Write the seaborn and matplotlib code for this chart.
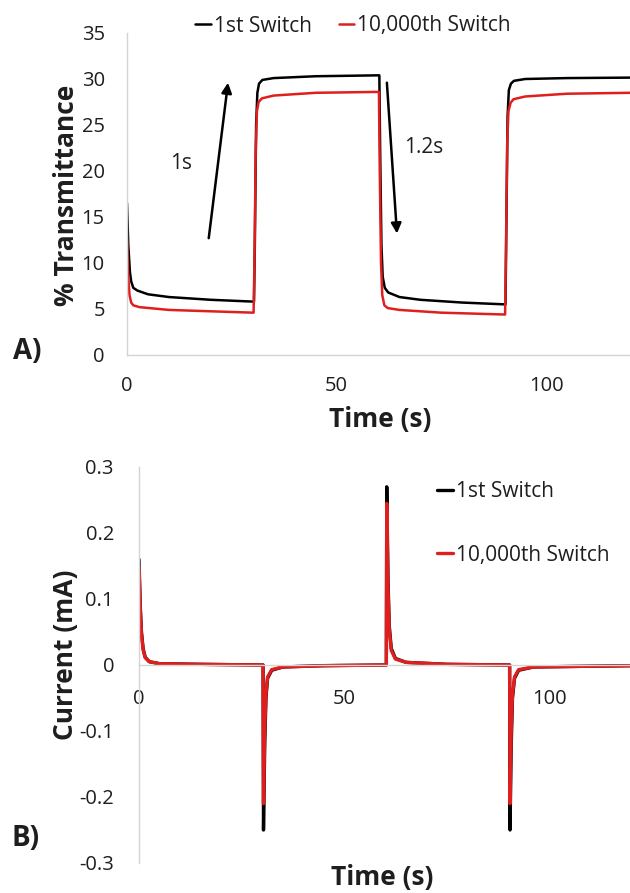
import numpy as np
import pandas as pd
import matplotlib
matplotlib.use("Agg")
import matplotlib.pyplot as plt
import seaborn as sns

# ---------------- data ----------------
t_trans_1 = [0, 0.3, 0.7, 1.0, 1.5, 2.5, 5, 10, 20, 30.3,
             30.5, 30.8, 31.1, 31.5, 32.3, 35, 45, 60.2,
             60.4, 60.7, 61.0, 61.5, 62.3, 65, 70, 80, 90.3,
             90.5, 90.8, 91.1, 91.6, 92.3, 95, 105, 120]
trans_1 = [16.5, 12.0, 9.0, 8.0, 7.3, 7.0, 6.6, 6.3, 6.0, 5.8,
           12.0, 25.0, 28.5, 29.5, 29.9, 30.1, 30.3, 30.4,
           22.0, 12.0, 8.5, 7.3, 6.8, 6.3, 6.0, 5.7, 5.5,
           14.0, 26.0, 28.8, 29.5, 29.8, 30.0, 30.1, 30.15]
t_trans_2 = [0, 0.3, 0.6, 1.0, 1.5, 3, 10, 20, 30.2,
             30.4, 30.7, 31.0, 31.4, 32.2, 35, 45, 60.1,
             60.3, 60.6, 60.9, 61.4, 62.2, 65, 75, 90.2,
             90.4, 90.7, 91.0, 91.5, 92.2, 95, 105, 120]
trans_2 = [12.5, 8.5, 6.5, 5.7, 5.4, 5.2, 4.9, 4.75, 4.6,
           10.0, 22.0, 26.5, 27.5, 27.9, 28.2, 28.5, 28.6,
           20.0, 10.0, 6.5, 5.4, 5.1, 4.9, 4.6, 4.4,
           11.0, 23.0, 26.5, 27.4, 27.8, 28.1, 28.4, 28.5]

t_cur = [0, 0.3, 0.6, 1.0, 1.5, 2.5, 5, 15, 30.2,
         30.3, 30.6, 30.9, 31.3, 32.3, 35, 45, 60.2,
         60.3, 60.6, 60.9, 61.4, 62.4, 65, 75, 90.2,
         90.3, 90.6, 90.9, 91.4, 92.4, 96, 120]
cur_1 = [0.16, 0.09, 0.05, 0.025, 0.012, 0.005, 0.002, 0.001, 0.0,
         -0.25, -0.12, -0.05, -0.02, -0.008, -0.003, -0.001, 0.0,
         0.27, 0.13, 0.06, 0.025, 0.01, 0.004, 0.001, 0.0,
         -0.25, -0.12, -0.05, -0.02, -0.008, -0.003, -0.001]
cur_2 = [0.15, 0.085, 0.047, 0.023, 0.011, 0.005, 0.002, 0.001, 0.0,
         -0.21, -0.10, -0.045, -0.018, -0.007, -0.003, -0.001, 0.0,
         0.245, 0.12, 0.055, 0.022, 0.009, 0.004, 0.001, 0.0,
         -0.21, -0.10, -0.045, -0.018, -0.007, -0.003, -0.001]

series_names = ["1st Switch", "10,000th Switch"]
colors = ["#000000", "#e01e1e"]
top_yticks = [0, 5, 10, 15, 20, 25, 30, 35]
bot_yticks = [-0.3, -0.2, -0.1, 0, 0.1, 0.2, 0.3]
bot_ylabels = ["-0.3", "-0.2", "-0.1", "0", "0.1", "0.2", "0.3"]
xticks = [0, 50, 100]

# ---------------- style ----------------
sns.set_style("white")
plt.rcParams["font.family"] = ["Open Sans", "DejaVu Sans"]

W, H = 630, 893
fig = plt.figure(figsize=(W / 100, H / 100), dpi=100)

spine_c = "#d4d4d4"
txt_c = "#1e1e1e"
TICK_FS = 14.5
LEG_FS = 15
LAB_FS = 19

# ---------------- top panel ----------------
ax1 = fig.add_axes([127 / W, 1 - 355 / H, 1 - 127 / W, (355 - 33) / H])
df1 = pd.DataFrame({"t": t_trans_1, "v": trans_1, "s": series_names[0]})
df2 = pd.DataFrame({"t": t_trans_2, "v": trans_2, "s": series_names[1]})
dft = pd.concat([df1, df2], ignore_index=True)
sns.lineplot(data=dft, x="t", y="v", hue="s", palette=colors, ax=ax1,
             linewidth=1.8, estimator=None, sort=False, legend=True)
ax1.set_xlim(0, 120)
ax1.set_ylim(0, 35)
ax1.set_xticks(xticks)
ax1.set_yticks(top_yticks)
ax1.set_xlabel("")
ax1.set_ylabel("")
for s in ["top", "right"]:
    ax1.spines[s].set_visible(False)
for s in ["left", "bottom"]:
    ax1.spines[s].set_color(spine_c)
    ax1.spines[s].set_linewidth(1.0)
ax1.tick_params(axis="both", which="both", length=5, width=1, color=spine_c,
                labelsize=TICK_FS, labelcolor=txt_c, direction="out")
ax1.tick_params(axis="x", pad=10)
ax1.tick_params(axis="y", pad=11)
leg = ax1.legend(loc="center", bbox_to_anchor=(353 / W, 1 - 26 / H),
                 bbox_transform=fig.transFigure, ncol=2, frameon=False,
                 fontsize=LEG_FS, handlelength=0.75, handletextpad=0.15,
                 columnspacing=1.3, borderaxespad=0, borderpad=0)
for txt in leg.get_texts():
    txt.set_color(txt_c)

ax1.annotate("", xy=(24.1, 29.6), xytext=(19.5, 12.7),
             arrowprops=dict(arrowstyle="-|>", lw=1.8, color="black",
                             mutation_scale=15, shrinkA=0, shrinkB=0))
ax1.annotate("", xy=(64.4, 13.2), xytext=(62.0, 29.6),
             arrowprops=dict(arrowstyle="-|>", lw=1.8, color="black",
                             mutation_scale=15, shrinkA=0, shrinkB=0))
ax1.text(12.8, 20.8, "1s", fontsize=LEG_FS, color=txt_c, ha="center", va="center")
ax1.text(70.8, 22.6, "1.2s", fontsize=LEG_FS, color=txt_c, ha="center", va="center")

# ---------------- bottom panel ----------------
ax2 = fig.add_axes([139 / W, 1 - 863 / H, 1 - 139 / W, (863 - 467) / H])
dc1 = pd.DataFrame({"t": t_cur, "v": cur_1, "s": series_names[0]})
dc2 = pd.DataFrame({"t": t_cur, "v": cur_2, "s": series_names[1]})
dfc = pd.concat([dc1, dc2], ignore_index=True)
sns.lineplot(data=dfc, x="t", y="v", hue="s", palette=colors, ax=ax2,
             linewidth=2.4, estimator=None, sort=False, legend=True)
ax2.set_xlim(0, 119.5)
ax2.set_ylim(-0.3, 0.3)
ax2.set_xticks(xticks)
ax2.set_yticks(bot_yticks)
ax2.set_yticklabels(bot_ylabels)
ax2.set_xlabel("")
ax2.set_ylabel("")
ax2.spines["bottom"].set_position(("data", 0))
for s in ["top", "right"]:
    ax2.spines[s].set_visible(False)
for s in ["left", "bottom"]:
    ax2.spines[s].set_color(spine_c)
    ax2.spines[s].set_linewidth(1.0)
ax2.tick_params(axis="both", which="both", length=5, width=1, color=spine_c,
                labelsize=TICK_FS, labelcolor=txt_c, direction="out")
ax2.tick_params(axis="x", pad=12)
ax2.tick_params(axis="y", pad=13)
leg2 = ax2.legend(loc="upper left", bbox_to_anchor=(437 / W, 1 - 481 / H),
                  bbox_transform=fig.transFigure, ncol=1, frameon=False,
                  fontsize=LEG_FS, handlelength=0.75, handletextpad=0.15,
                  labelspacing=2.05, borderaxespad=0, borderpad=0)
for txt in leg2.get_texts():
    txt.set_color(txt_c)

# ---------------- figure texts ----------------
fig.text(66 / W, 1 - 195 / H, "% Transmittance", rotation=90, fontsize=LAB_FS,
         fontweight="bold", ha="center", va="center", color=txt_c)
fig.text(380 / W, 1 - 420 / H, "Time (s)", fontsize=LAB_FS, fontweight="bold",
         ha="center", va="center", color=txt_c)
fig.text(27 / W, 1 - 352 / H, "A)", fontsize=20, fontweight="bold",
         ha="center", va="center", color=txt_c)
fig.text(66 / W, 1 - 655 / H, "Current (mA)", rotation=90, fontsize=LAB_FS,
         fontweight="bold", ha="center", va="center", color=txt_c)
fig.text(382 / W, 1 - 878 / H, "Time (s)", fontsize=LAB_FS, fontweight="bold",
         ha="center", va="center", color=txt_c)
fig.text(26 / W, 1 - 838 / H, "B)", fontsize=20, fontweight="bold",
         ha="center", va="center", color=txt_c)

fig.savefig("out.png", dpi=100)
